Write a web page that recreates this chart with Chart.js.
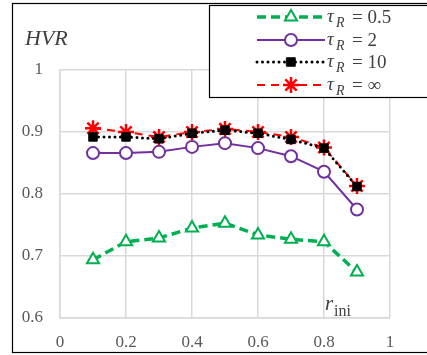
<!DOCTYPE html>
<html>
<head>
<meta charset="utf-8">
<script src="https://cdn.jsdelivr.net/npm/chart.js@4.4.1/dist/chart.umd.min.js"></script>
<style>
  html, body { margin: 0; padding: 0; background: #fff; }
  #wrap { position: relative; width: 427px; height: 355px; }
</style>
</head>
<body>
<div id="wrap"><canvas id="hvrCanvas" width="427" height="355"></canvas></div>
<script>
// data
const rIni = [0.1, 0.2, 0.3, 0.4, 0.5, 0.6, 0.7, 0.8, 0.9];
const tau05 = [0.694, 0.723, 0.729, 0.745, 0.753, 0.734, 0.727, 0.723, 0.674];
const tau2 = [0.866, 0.866, 0.868, 0.876, 0.882, 0.874, 0.861, 0.836, 0.775];
const tau10 = [0.892, 0.892, 0.889, 0.898, 0.903, 0.898, 0.888, 0.874, 0.812];
const tauInf = [0.906, 0.900, 0.892, 0.900, 0.905, 0.900, 0.892, 0.875, 0.813];
const legendValues = ['0.5', '2', '10', '\u221E'];

const serif = '"Liberation Serif", "DejaVu Serif", serif';

function toPoints(ys) {
    return rIni.map((x, i) => ({ x: x, y: ys[i] }));
}

// Excel style labels: 0, 0.2 ... 1
function tickLabel(v) {
    return String(+v.toFixed(1));
}

const datasets = [
    {
        data: toPoints(tau05),
        borderColor: '#00b050',
        borderWidth: 3.5,
        borderDash: [9, 5],
        pointStyle: 'triangle',
        pointRadius: 7,
        pointBorderWidth: 2,
        pointBackgroundColor: '#ffffff',
        pointBorderColor: '#00b050',
    },
    {
        data: toPoints(tau2),
        borderColor: '#7030a0',
        borderWidth: 2,
        pointStyle: 'circle',
        pointRadius: 6,
        pointBorderWidth: 2,
        pointBackgroundColor: '#ffffff',
        pointBorderColor: '#7030a0',
    },
    {
        data: toPoints(tau10),
        borderColor: '#000000',
        borderWidth: 3,
        borderDash: [0, 5.5],
        borderCapStyle: 'round',
        pointStyle: 'rect',
        pointRadius: 6,
        pointBorderWidth: 1,
        pointBackgroundColor: '#000000',
        pointBorderColor: '#000000',
    },
    {
        data: toPoints(tauInf),
        borderColor: '#ff0000',
        borderWidth: 2,
        borderDash: [8, 6],
        pointStyle: 'star',
        pointRadius: 8,
        pointBorderWidth: 2.5,
        pointBackgroundColor: '#ff0000',
        pointBorderColor: '#ff0000',
    }
];

// frame, axis titles and the legend box
const decorations = {
    id: 'decorations',
    afterDraw(chart) {
        const ctx = chart.ctx;
        ctx.save();

        // outer frame
        ctx.strokeStyle = '#000';
        ctx.lineWidth = 1.2;
        ctx.strokeRect(12.5, 3.5, 430, 349);

        // HVR
        ctx.fillStyle = '#404040';
        ctx.font = 'italic 22px ' + serif;
        ctx.textBaseline = 'alphabetic';
        ctx.textAlign = 'left';
        ctx.fillText('HVR', 25, 45);

        // r_ini
        ctx.font = 'italic 21px ' + serif;
        ctx.fillText('r', 325, 310);
        ctx.font = '16px ' + serif;
        ctx.fillText('ini', 334, 316);

        // legend
        ctx.fillStyle = '#fff';
        ctx.fillRect(209.5, 5.5, 230, 92);
        ctx.strokeStyle = '#000';
        ctx.lineWidth = 1.2;
        ctx.strokeRect(209.5, 5.5, 230, 92);

        const rows = [17, 40, 62, 85];
        datasets.forEach((ds, i) => {
            const y = rows[i];
            ctx.save();
            ctx.strokeStyle = ds.borderColor;
            ctx.lineWidth = ds.borderWidth;
            ctx.setLineDash(ds.borderDash || []);
            ctx.lineCap = ds.borderCapStyle || 'butt';
            ctx.beginPath();
            ctx.moveTo(257, y);
            ctx.lineTo(325, y);
            ctx.stroke();
            ctx.setLineDash([]);
            ctx.fillStyle = ds.pointBackgroundColor;
            ctx.strokeStyle = ds.pointBorderColor;
            ctx.lineWidth = ds.pointBorderWidth;
            Chart.helpers.drawPoint(ctx, {
                pointStyle: ds.pointStyle,
                radius: ds.pointRadius,
                rotation: 0,
                borderWidth: ds.pointBorderWidth
            }, 291, y);
            ctx.restore();

            ctx.fillStyle = '#404040';
            ctx.font = 'italic 19px ' + serif;
            ctx.fillText('\u03C4', 327, y + 5);
            ctx.font = 'italic 14px ' + serif;
            ctx.fillText('R', 336, y + 10);
            ctx.font = '19px ' + serif;
            ctx.fillText('= ' + legendValues[i], 352, y + 6);
        });

        ctx.restore();
    }
};

const canvas = document.getElementById('hvrCanvas');
const chart = new Chart(canvas, {
    type: 'line',
    data: { datasets: datasets },
    options: {
        responsive: false,
        animation: false,
        layout: { padding: { left: 0, top: 70, right: 37, bottom: 0 } },
        plugins: {
            legend: { display: false },
            tooltip: { enabled: false }
        },
        elements: { line: { tension: 0 } },
        scales: {
            x: {
                type: 'linear',
                min: 0,
                max: 1,
                afterFit: (scale) => { scale.height = 37; },
                ticks: {
                    stepSize: 0.2,
                    padding: 14,
                    color: '#595959',
                    font: { family: serif, size: 17 },
                    callback: tickLabel
                },
                grid: { color: '#d9d9d9', lineWidth: 1.5, drawTicks: false },
                border: { color: '#d9d9d9', width: 1.5 }
            },
            y: {
                min: 0.6,
                max: 1,
                afterFit: (scale) => { scale.width = 60; },
                ticks: {
                    stepSize: 0.1,
                    padding: 17,
                    color: '#595959',
                    font: { family: serif, size: 17 },
                    callback: tickLabel
                },
                grid: { color: '#d9d9d9', lineWidth: 1.5, drawTicks: false },
                border: { color: '#d9d9d9', width: 1.5 }
            }
        }
    },
    plugins: [decorations]
});
</script>
</body>
</html>
